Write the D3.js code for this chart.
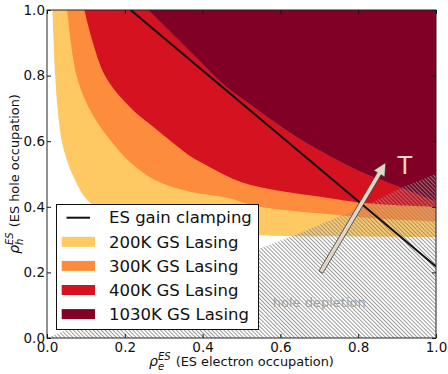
<!DOCTYPE html>
<html>
<head>
<meta charset="utf-8">
<script src="https://cdn.jsdelivr.net/npm/d3@7"></script>
<style>
  body { margin: 0; background: #fff; }
  text { font-family: "DejaVu Sans", sans-serif; }
</style>
</head>
<body>
<svg id="chart" width="448" height="374"></svg>
<script>
// Axis ticks
const tickValues = [0.0, 0.2, 0.4, 0.6, 0.8, 1.0];
const tickLabels = ["0.0", "0.2", "0.4", "0.6", "0.8", "1.0"];

// Lasing regions: lower-left boundary of each region, running from the top edge to the right edge
const seriesNames = ["200K GS Lasing", "300K GS Lasing", "400K GS Lasing", "1030K GS Lasing"];
const seriesColors = ["#fec863", "#fd8d3c", "#d5121f", "#800026"];

const rhoE200 = [0.014, 0.021, 0.028, 0.038, 0.052, 0.068, 0.093, 0.12, 0.2, 0.3, 0.4, 0.54, 0.7, 0.85, 1.0];
const rhoH200 = [1.0, 0.8, 0.69, 0.6, 0.54, 0.492, 0.436, 0.405, 0.37, 0.345, 0.33, 0.314, 0.31, 0.309, 0.308];

const rhoE300 = [0.052, 0.076, 0.113, 0.165, 0.215, 0.28, 0.368, 0.46, 0.54, 0.7, 0.83, 1.0];
const rhoH300 = [1.0, 0.8, 0.69, 0.6, 0.535, 0.48, 0.446, 0.428, 0.402, 0.38, 0.366, 0.355];

const rhoE400 = [0.096, 0.149, 0.221, 0.273, 0.342, 0.37, 0.42, 0.5, 0.6, 0.702, 0.83, 1.0];
const rhoH400 = [1.0, 0.8, 0.695, 0.644, 0.578, 0.553, 0.52, 0.475, 0.448, 0.431, 0.41, 0.40];

const rhoE1030 = [0.26, 0.368, 0.455, 0.505, 0.65, 0.805, 0.873, 1.0];
const rhoH1030 = [1.0, 0.873, 0.771, 0.726, 0.606, 0.507, 0.475, 0.415];

// ES gain clamping line
const clampE = [0.215, 1.0];
const clampH = [1.0, 0.218];

// Hole depletion boundary (region below it is hatched)
const depletionE = [0.0, 0.54, 0.64, 0.75, 0.83, 0.915, 1.0];
const depletionH = [0.0, 0.27, 0.315, 0.37, 0.41, 0.46, 0.50];

// Temperature arrow
const arrowE = [0.704, 0.871];
const arrowH = [0.201, 0.535];

const svg = d3.select("#chart");
const x = d3.scaleLinear().domain([0, 1]).range([47, 436]);
const y = d3.scaleLinear().domain([0, 1]).range([338, 10]);

const defs = svg.append("defs");
defs.append("clipPath").attr("id", "plotClip")
  .append("rect")
  .attr("x", x(0)).attr("y", y(1))
  .attr("width", x(1) - x(0)).attr("height", y(0) - y(1));

const hatch = defs.append("pattern")
  .attr("id", "hatch")
  .attr("patternUnits", "userSpaceOnUse")
  .attr("width", 2.8).attr("height", 10)
  .attr("patternTransform", "rotate(-45)");
hatch.append("line")
  .attr("x1", 0.5).attr("y1", 0).attr("x2", 0.5).attr("y2", 10)
  .attr("stroke", "#8c8c8c").attr("stroke-width", 0.9);

const plot = svg.append("g").attr("clip-path", "url(#plotClip)");

// Each region: boundary curve, then closed through the top-right corner
const boundary = d3.line()
  .x(d => x(d[0])).y(d => y(d[1]))
  .curve(d3.curveCatmullRom.alpha(0.5));

const regions = [
  [rhoE200, rhoH200],
  [rhoE300, rhoH300],
  [rhoE400, rhoH400],
  [rhoE1030, rhoH1030]
];

regions.forEach(([es, hs], i) => {
  const pts = es.map((e, k) => [e, hs[k]]);
  plot.append("path")
    .attr("d", boundary(pts) + `L${x(1) + 2},${y(hs[hs.length - 1])}L${x(1) + 2},${y(1) - 2}L${x(es[0])},${y(1) - 2}Z`)
    .attr("fill", seriesColors[i])
    .attr("stroke", i === 3 ? "#b42a3f" : "none")
    .attr("stroke-width", i === 3 ? 0.8 : 0);
});

// Hole depletion hatching
const depPts = depletionE.map((e, k) => [e, depletionH[k]]);
plot.append("path")
  .attr("d", d3.line().x(d => x(d[0])).y(d => y(d[1]))(depPts) + `L${x(1)},${y(0)}Z`)
  .attr("fill", "url(#hatch)");

// ES gain clamping
plot.append("path")
  .attr("d", d3.line().x(d => x(d[0])).y(d => y(d[1]))(clampE.map((e, k) => [e, clampH[k]])))
  .attr("stroke", "#111")
  .attr("stroke-width", 2)
  .attr("fill", "none");

// Arrow showing increasing temperature
{
  const p0 = [x(arrowE[0]), y(arrowH[0])];
  const p1 = [x(arrowE[1]), y(arrowH[1])];
  const dx = p1[0] - p0[0], dy = p1[1] - p0[1];
  const len = Math.hypot(dx, dy);
  const u = [dx / len, dy / len], n = [-u[1], u[0]];
  const hw = 2.2, hl = 13, hh = 6.5;
  const b = [p1[0] - u[0] * hl, p1[1] - u[1] * hl];
  const pts = [
    [p0[0] + n[0] * hw, p0[1] + n[1] * hw],
    [b[0] + n[0] * hw, b[1] + n[1] * hw],
    [b[0] + n[0] * hh, b[1] + n[1] * hh],
    p1,
    [b[0] - n[0] * hh, b[1] - n[1] * hh],
    [b[0] - n[0] * hw, b[1] - n[1] * hw],
    [p0[0] - n[0] * hw, p0[1] - n[1] * hw]
  ];
  plot.append("path")
    .attr("d", "M" + pts.map(p => p.join(",")).join("L") + "Z")
    .attr("fill", "#e3d6c4")
    .attr("stroke", "#3a3a3a")
    .attr("stroke-width", 0.8)
    .attr("stroke-linejoin", "miter");
}

plot.append("text")
  .attr("x", x(0.92)).attr("y", y(0.5))
  .attr("text-anchor", "middle")
  .attr("font-size", 24)
  .attr("fill", "#e6d8c8")
  .text("T");

plot.append("text")
  .attr("x", x(0.70)).attr("y", y(0.095))
  .attr("text-anchor", "middle")
  .attr("font-size", 13)
  .attr("fill", "#a0a0a0")
  .text("hole depletion");

// Legend
const legend = svg.append("g");
legend.append("rect")
  .attr("x", 56.5).attr("y", 204.5)
  .attr("width", 202).attr("height", 125)
  .attr("fill", "#fff")
  .attr("stroke", "#111")
  .attr("stroke-width", 1);
const rowY = k => 217.7 + k * 24.1;
legend.append("line")
  .attr("x1", 66.5).attr("x2", 90).attr("y1", rowY(0)).attr("y2", rowY(0))
  .attr("stroke", "#111").attr("stroke-width", 2);
legend.append("text")
  .attr("x", 109).attr("y", rowY(0)).attr("dy", "0.35em")
  .attr("font-size", 16.5).attr("fill", "#111")
  .text("ES gain clamping");
seriesNames.forEach((name, i) => {
  legend.append("rect")
    .attr("x", 61.7).attr("y", rowY(i + 1) - 5)
    .attr("width", 33.3).attr("height", 10)
    .attr("fill", seriesColors[i]);
  legend.append("text")
    .attr("x", 109).attr("y", rowY(i + 1)).attr("dy", "0.35em")
    .attr("font-size", 16.5).attr("fill", "#111")
    .text(name);
});

// Axes with inward ticks on all sides
const fmt = (d, i) => tickLabels[i];
const axisStyle = g => {
  g.select(".domain").remove();
  g.selectAll(".tick line").attr("stroke", "#111");
  g.selectAll(".tick text").attr("font-size", 13.5).attr("fill", "#111")
    .attr("font-family", "DejaVu Sans, sans-serif");
};
svg.append("g").attr("transform", `translate(0,${y(0)})`)
  .call(d3.axisBottom(x).tickValues(tickValues).tickFormat(fmt).tickSizeInner(-4).tickSizeOuter(0).tickPadding(4))
  .call(axisStyle);
svg.append("g").attr("transform", `translate(${x(0)},0)`)
  .call(d3.axisLeft(y).tickValues(tickValues).tickFormat(fmt).tickSizeInner(-4).tickSizeOuter(0).tickPadding(2))
  .call(axisStyle);
svg.append("g").attr("transform", `translate(0,${y(1)})`)
  .call(d3.axisTop(x).tickValues(tickValues).tickFormat("").tickSizeInner(-4).tickSizeOuter(0))
  .call(axisStyle);
svg.append("g").attr("transform", `translate(${x(1)},0)`)
  .call(d3.axisRight(y).tickValues(tickValues).tickFormat("").tickSizeInner(-4).tickSizeOuter(0))
  .call(axisStyle);

svg.append("rect")
  .attr("x", x(0)).attr("y", y(1))
  .attr("width", x(1) - x(0)).attr("height", y(0) - y(1))
  .attr("fill", "none").attr("stroke", "#222").attr("stroke-width", 1);

// Axis labels: rho with stacked sub/superscript, then the description
function mathLabel(g, sub, rest) {
  const rho = g.append("text").attr("font-size", 14).attr("font-style", "italic").attr("fill", "#111").text("ρ");
  const w0 = rho.node().getComputedTextLength();
  const s1 = g.append("text").attr("x", w0).attr("y", 3.5).attr("font-size", 10).attr("font-style", "italic").attr("fill", "#111").text(sub);
  const s2 = g.append("text").attr("x", w0).attr("y", -6.5).attr("font-size", 10).attr("font-style", "italic").attr("fill", "#111").text("ES");
  const w1 = w0 + Math.max(s1.node().getComputedTextLength(), s2.node().getComputedTextLength());
  const t = g.append("text").attr("x", w1 + 5).attr("font-size", 12.9).attr("fill", "#111").text(rest);
  return w1 + 5 + t.node().getComputedTextLength();
}
const xl = svg.append("g");
const xw = mathLabel(xl, "e", "(ES electron occupation)");
xl.attr("transform", `translate(${(x(0) + x(1)) / 2 - xw / 2},366)`);

const yl = svg.append("g");
const yw = mathLabel(yl, "h", "(ES hole occupation)");
yl.attr("transform", `translate(19,${(y(0) + y(1)) / 2 + yw / 2}) rotate(-90)`);
</script>
</body>
</html>
